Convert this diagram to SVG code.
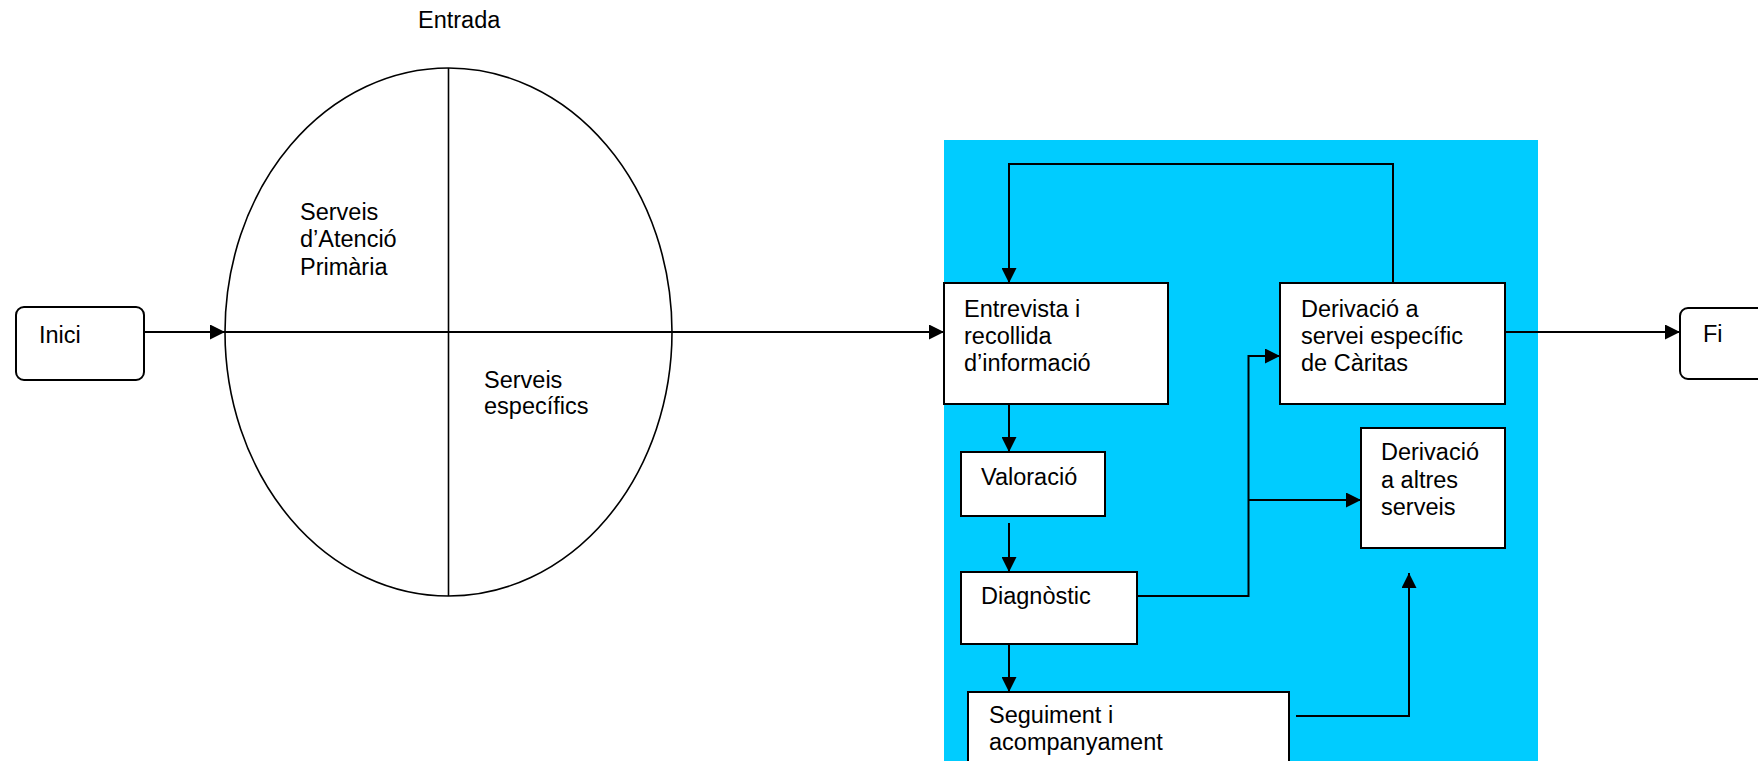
<svg xmlns="http://www.w3.org/2000/svg" width="1758" height="761" viewBox="0 0 1758 761">
  <defs>
    <marker id="arrow" markerUnits="userSpaceOnUse" markerWidth="15" markerHeight="15" refX="15" refY="7.5" orient="auto">
      <path d="M0,0 L15,7.5 L0,15 z" fill="#000"/>
    </marker>
    <style>
      text { font-family: "Liberation Sans", Arial, sans-serif; font-size: 23.5px; fill: #000; }
      .box { fill: #fff; stroke: #000; stroke-width: 2; }
      .term { fill: #fff; stroke: #000; stroke-width: 2; }
      .line { fill: none; stroke: #000; stroke-width: 2; }
      .arr { fill: none; stroke: #000; stroke-width: 2; marker-end: url(#arrow); }
    </style>
  </defs>
  <rect width="1758" height="761" fill="#fff"/>

  <!-- process area -->
  <rect id="area" x="944" y="140" width="594" height="621" fill="#00CCFF"/>

  <!-- entry ellipse -->
  <g id="entrada">
    <text x="418" y="28">Entrada</text>
    <ellipse cx="448.5" cy="332" rx="223.5" ry="264" fill="#fff" stroke="#000" stroke-width="1.6"/>
    <line x1="448.5" y1="68" x2="448.5" y2="596" stroke="#000" stroke-width="1.6"/>
    <text x="300" y="220">Serveis</text>
    <text x="300" y="247">d’Atenció</text>
    <text x="300" y="275">Primària</text>
    <text x="484" y="388">Serveis</text>
    <text x="484" y="414">específics</text>
  </g>

  <g id="inici">
    <rect class="term" x="16" y="307" width="128" height="73" rx="8"/>
    <text x="39" y="343">Inici</text>
  </g>

  <g id="fi">
    <rect class="term" x="1680" y="308" width="128" height="71" rx="8"/>
    <text x="1703" y="342">Fi</text>
  </g>

  <g id="entrevista">
    <rect class="box" x="944" y="283" width="224" height="121"/>
    <text x="964" y="317">Entrevista i</text>
    <text x="964" y="344">recollida</text>
    <text x="964" y="371">d’informació</text>
  </g>

  <g id="derivacio-caritas">
    <rect class="box" x="1280" y="283" width="225" height="121"/>
    <text x="1301" y="317">Derivació a</text>
    <text x="1301" y="344">servei específic</text>
    <text x="1301" y="371">de Càritas</text>
  </g>

  <g id="valoracio">
    <rect class="box" x="961" y="452" width="144" height="64"/>
    <text x="981" y="485">Valoració</text>
  </g>

  <g id="diagnostic">
    <rect class="box" x="961" y="572" width="176" height="72"/>
    <text x="981" y="604">Diagnòstic</text>
  </g>

  <g id="seguiment">
    <rect class="box" x="968" y="692" width="321" height="80"/>
    <text x="989" y="723">Seguiment i</text>
    <text x="989" y="750">acompanyament</text>
  </g>

  <g id="derivacio-altres">
    <rect class="box" x="1361" y="428" width="144" height="120"/>
    <text x="1381" y="460">Derivació</text>
    <text x="1381" y="488">a altres</text>
    <text x="1381" y="515">serveis</text>
  </g>

  <g id="connectors">
    <path class="arr" d="M144,332 L225,332"/>
    <path class="line" d="M225,332 L672,332"/>
    <path class="arr" d="M672,332 L944,332"/>
    <path class="arr" d="M1393,283 L1393,164 L1009,164 L1009,283"/>
    <path class="arr" d="M1505,332 L1680,332"/>
    <path class="arr" d="M1009,404 L1009,452"/>
    <path class="arr" d="M1009,523 L1009,572"/>
    <path class="arr" d="M1009,644 L1009,692"/>
    <path class="arr" d="M1137,596 L1248.5,596 L1248.5,356 L1280,356"/>
    <path class="arr" d="M1248.5,500 L1361,500"/>
    <path class="arr" d="M1296,716 L1409,716 L1409,573"/>
  </g>
</svg>
